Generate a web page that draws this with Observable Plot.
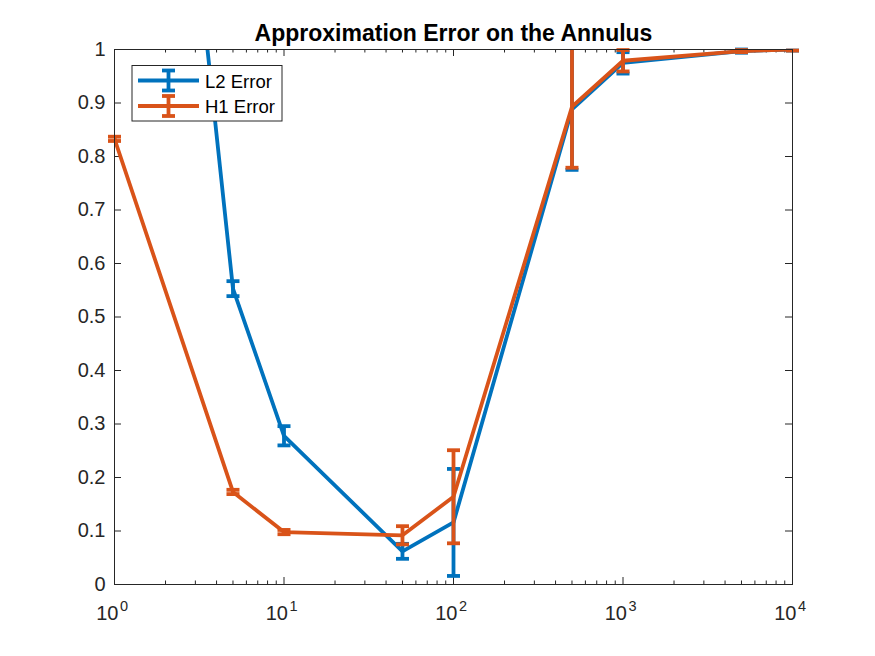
<!DOCTYPE html>
<html>
<head>
<meta charset="utf-8">
<script src="https://cdn.jsdelivr.net/npm/d3@7"></script>
<script src="https://cdn.jsdelivr.net/npm/@observablehq/plot@0.6"></script>
<style>
  html, body { margin: 0; padding: 0; background: #fff; }
  #chart { width: 875px; height: 656px; }
</style>
</head>
<body>
<div id="chart"></div>
<script>
// ---- data ----
const xs      = [1, 5, 10, 50, 100, 500, 1000, 5000, 10000];
const l2Mean  = [2.63, 0.553, 0.278, 0.062, 0.116, 0.888, 0.975, 0.997, 1.0];
const l2Err   = [0.02, 0.014, 0.018, 0.014, 0.100, 0.113, 0.020, 0.003, 0.002];
const h1Mean  = [0.833, 0.173, 0.098, 0.092, 0.164, 0.893, 0.979, 0.997, 1.0];
const h1Err   = [0.004, 0.004, 0.004, 0.017, 0.087, 0.114, 0.020, 0.002, 0.002];
const seriesNames = ["L2 Error", "H1 Error"];
const seriesColors = ["#0072BD", "#D95319"];
const xMajor = [1, 10, 100, 1000, 10000];
const xExponents = ["0", "1", "2", "3", "4"];
const xMinor = [2,3,4,5,6,7,8,9,20,30,40,50,60,70,80,90,200,300,400,500,600,700,800,900,2000,3000,4000,5000,6000,7000,8000,9000];
const yTicks = [0, 0.1, 0.2, 0.3, 0.4, 0.5, 0.6, 0.7, 0.8, 0.9, 1];
const yTickLabels = ["0", "0.1", "0.2", "0.3", "0.4", "0.5", "0.6", "0.7", "0.8", "0.9", "1"];
const title = "Approximation Error on the Annulus";

// ---- build tables ----
const mk = (means, errs) => xs.map((x, i) => ({x, mean: means[i], lo: means[i] - errs[i], hi: means[i] + errs[i]}));
const series = [mk(l2Mean, l2Err), mk(h1Mean, h1Err)];

const W = 875, H = 656, mL = 114, mR = 83, mT = 49, mB = 72;
const fw = W - mL - mR, fh = H - mT - mB;
const axisColor = "#262626";
const fontFam = "'Liberation Sans', Arial, Helvetica, sans-serif";
const lw = 3.8;
const capR = 6.5;
const capSymbol = {draw(ctx, size) { const r = Math.sqrt(size / Math.PI); ctx.moveTo(-r, 0); ctx.lineTo(r, 0); }};
const inRange = v => v <= 1.0005 && v >= -0.0005;

const marks = [];
series.forEach((data, s) => {
  const c = seriesColors[s];
  marks.push(Plot.line(data, {x: "x", y: "mean", stroke: c, strokeWidth: lw, clip: true}));
  marks.push(Plot.ruleX(data, {x: "x", y1: "lo", y2: "hi", stroke: c, strokeWidth: lw, strokeLinecap: "butt", clip: true}));
  marks.push(Plot.dot(data.filter(d => inRange(d.lo)), {x: "x", y: "lo", r: capR, symbol: capSymbol, stroke: c, strokeWidth: lw, strokeLinecap: "butt"}));
  marks.push(Plot.dot(data.filter(d => inRange(d.hi)), {x: "x", y: "hi", r: capR, symbol: capSymbol, stroke: c, strokeWidth: lw, strokeLinecap: "butt"}));
});

const chart = Plot.plot({
  width: W, height: H,
  marginLeft: mL, marginRight: mR, marginTop: mT, marginBottom: mB,
  style: {fontFamily: fontFam, fontSize: "20px", background: "#fff", color: axisColor, overflow: "visible"},
  x: {type: "log", domain: [1, 10000], axis: null},
  y: {domain: [0, 1], axis: null},
  marks: [
    // ticks (inward, all four sides)
    Plot.tickX(xMajor, {x: d => d, stroke: axisColor, insetTop: fh - 7}),
    Plot.tickX(xMajor, {x: d => d, stroke: axisColor, insetBottom: fh - 7}),
    Plot.tickX(xMinor, {x: d => d, stroke: axisColor, insetTop: fh - 3.5}),
    Plot.tickX(xMinor, {x: d => d, stroke: axisColor, insetBottom: fh - 3.5}),
    Plot.tickY(yTicks, {y: d => d, stroke: axisColor, insetRight: fw - 7}),
    Plot.tickY(yTicks, {y: d => d, stroke: axisColor, insetLeft: fw - 7}),
    // y labels
    Plot.text(yTicks, {x: 1, y: d => d, text: (d, i) => yTickLabels[i], textAnchor: "end", dx: -9, fill: axisColor, fontSize: 20}),
    // x labels: 10 with superscript exponent
    Plot.text(xMajor, {x: d => d, y: 0, text: () => "10", textAnchor: "end", lineAnchor: "bottom", dx: 4, dy: 35, fill: axisColor, fontSize: 20}),
    Plot.text(xMajor, {x: d => d, y: 0, text: (d, i) => xExponents[i], textAnchor: "start", lineAnchor: "bottom", dx: 5.5, dy: 26, fill: axisColor, fontSize: 14.5}),
    ...marks,
    Plot.frame({stroke: axisColor}),
    // title
    Plot.text([title], {frameAnchor: "top", text: d => d, lineAnchor: "bottom", dy: -9, fontWeight: "bold", fontSize: 23, fill: "#000"})
  ]
});
document.getElementById("chart").appendChild(chart);

// ---- legend (drawn into the same svg) ----
const svg = d3.select(chart);
const lg = svg.append("g").attr("font-family", fontFam).attr("text-anchor", "start");
lg.append("rect").attr("x", 132).attr("y", 65.5).attr("width", 150).attr("height", 55.5)
  .attr("fill", "#fff").attr("stroke", axisColor).attr("stroke-width", 1);
seriesNames.forEach((name, i) => {
  const cy = 80.5 + i * 25.5, c = seriesColors[i];
  const g = lg.append("g").attr("stroke", c).attr("stroke-width", lw).attr("fill", "none");
  g.append("line").attr("x1", 138).attr("x2", 199).attr("y1", cy).attr("y2", cy);
  g.append("line").attr("x1", 168.5).attr("x2", 168.5).attr("y1", cy - 10).attr("y2", cy + 10);
  g.append("line").attr("x1", 168.5 - capR).attr("x2", 168.5 + capR).attr("y1", cy - 10).attr("y2", cy - 10);
  g.append("line").attr("x1", 168.5 - capR).attr("x2", 168.5 + capR).attr("y1", cy + 10).attr("y2", cy + 10);
  lg.append("text").attr("x", 205).attr("y", cy + 7).attr("font-size", 18.5).attr("fill", "#000").attr("text-anchor", "start").text(name);
});
</script>
</body>
</html>
